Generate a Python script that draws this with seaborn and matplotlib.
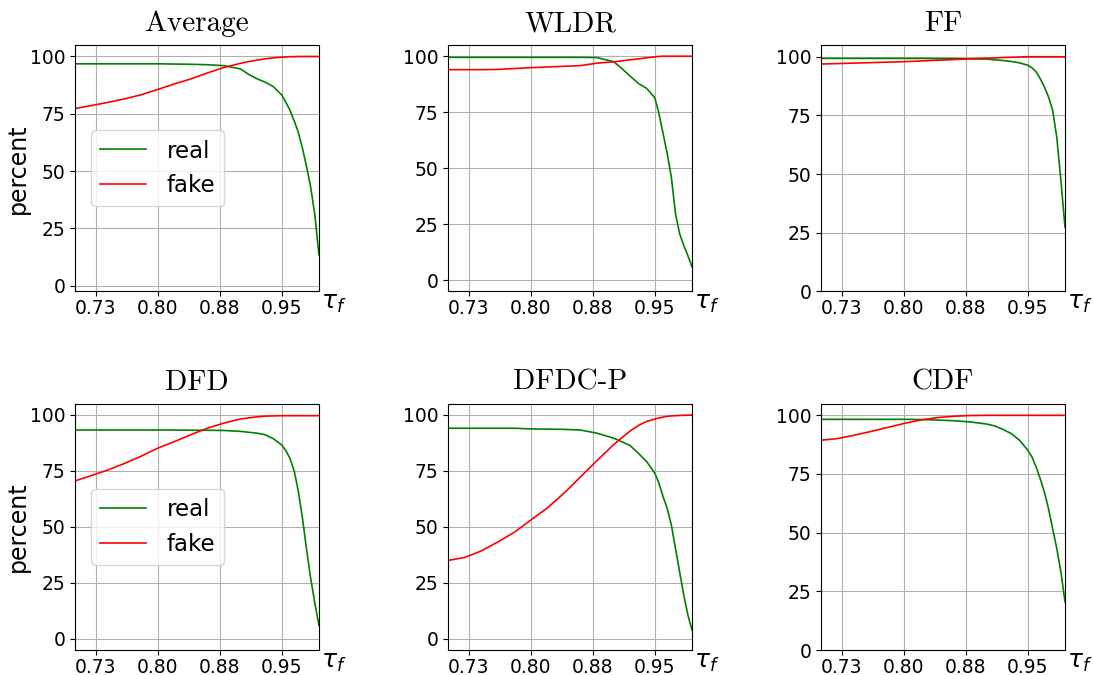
import numpy as np
import pandas as pd
import matplotlib
matplotlib.use("Agg")
import matplotlib.pyplot as plt
import seaborn as sns

# thresholds tau_f
tau = [0.70, 0.72, 0.74, 0.76, 0.78, 0.80, 0.82, 0.84, 0.86, 0.88, 0.90, 0.91, 0.92,
       0.93, 0.94, 0.95, 0.955, 0.96, 0.965, 0.97, 0.975, 0.98, 0.985, 0.99, 0.995]

avg_real = [96.8, 96.8, 96.8, 96.8, 96.8, 96.8, 96.7, 96.6, 96.4, 96.0, 94.6, 92.2, 90.3,
            88.8, 86.8, 83.2, 80.0, 76.5, 72.0, 67.0, 60.0, 52.0, 43.0, 31.0, 13.5]
avg_fake = [77.3, 78.6, 80.0, 81.5, 83.3, 85.6, 88.0, 90.2, 92.8, 95.2, 97.0, 97.8, 98.4,
            99.0, 99.4, 99.7, 99.8, 99.9, 99.9, 100, 100, 100, 100, 100, 100]

wldr_real = [99.5, 99.5, 99.5, 99.5, 99.5, 99.5, 99.5, 99.5, 99.5, 99.4, 97.6, 94.6, 91.2,
             87.9, 85.7, 81.5, 74.5, 65.6, 56.6, 46.2, 29.8, 20.9, 15.6, 11.0, 6.0]
wldr_fake = [94.0, 94.0, 94.0, 94.1, 94.5, 94.9, 95.2, 95.5, 95.8, 96.9, 97.5, 97.9, 98.4,
             98.8, 99.3, 99.7, 99.9, 100, 100, 100, 100, 100, 100, 100, 100]

ff_real = [99.3, 99.3, 99.3, 99.3, 99.3, 99.3, 99.3, 99.2, 99.2, 99.1, 99.0, 98.7, 98.4,
           98.0, 97.4, 96.4, 95.3, 93.6, 90.7, 87.2, 82.9, 77.2, 65.8, 47.3, 27.4]
ff_fake = [96.9, 97.1, 97.3, 97.5, 97.7, 97.9, 98.2, 98.5, 98.8, 99.1, 99.4, 99.5, 99.7,
           99.8, 99.9, 100, 100, 100, 100, 100, 100, 100, 100, 100, 100]

dfd_real = [93.2, 93.2, 93.2, 93.2, 93.2, 93.2, 93.2, 93.1, 93.1, 93.0, 92.6, 92.2, 91.8,
            91.1, 89.3, 86.5, 84.0, 80.5, 75.0, 66.0, 54.0, 40.0, 27.0, 16.0, 6.0]
dfd_fake = [70.5, 72.9, 75.4, 78.3, 81.5, 85.1, 88.0, 91.1, 94.0, 96.3, 98.1, 98.6, 99.1,
            99.4, 99.5, 99.6, 99.6, 99.6, 99.6, 99.6, 99.6, 99.6, 99.6, 99.6, 99.6]

dfdcp_real = [94.0, 94.0, 94.0, 94.0, 94.0, 93.7, 93.6, 93.5, 93.2, 91.8, 89.6, 88.0, 86.3,
              82.9, 79.2, 74.0, 69.5, 63.5, 58.3, 50.9, 40.5, 30.0, 19.6, 10.7, 4.0]
dfdcp_fake = [35.0, 36.3, 39.2, 43.2, 47.5, 53.0, 58.4, 64.9, 72.2, 79.5, 86.6, 89.7, 92.7,
              95.2, 97.0, 98.1, 98.6, 99.0, 99.3, 99.5, 99.6, 99.7, 99.8, 99.8, 99.9]

cdf_real = [98.3, 98.3, 98.3, 98.3, 98.3, 98.3, 98.2, 98.0, 97.7, 97.2, 96.3, 95.5, 94.0,
            92.2, 89.4, 85.1, 82.3, 78.0, 73.0, 67.4, 60.3, 51.8, 43.3, 33.3, 20.6]
cdf_fake = [89.4, 90.1, 91.5, 93.1, 94.8, 96.5, 98.0, 99.0, 99.6, 99.9, 100, 100, 100,
            100, 100, 100, 100, 100, 100, 100, 100, 100, 100, 100, 100]

titles = ["Average", "WLDR", "FF", "DFD", "DFDC-P", "CDF"]
reals = [avg_real, wldr_real, ff_real, dfd_real, dfdcp_real, cdf_real]
fakes = [avg_fake, wldr_fake, ff_fake, dfd_fake, dfdcp_fake, cdf_fake]
y_bottom = [-2.5, -5, 0, -5, -5, 0]

xticks = [0.725, 0.80, 0.875, 0.95]
xtick_labels = ["0.73", "0.80", "0.88", "0.95"]
yticks = [0, 25, 50, 75, 100]

fig, axes = plt.subplots(2, 3, figsize=(10.93, 6.75), dpi=100)
fig.subplots_adjust(left=0.0686, right=0.9744, top=0.9333, bottom=0.037,
                    wspace=0.529, hspace=0.455)

for i, ax in enumerate(axes.flat):
    df = pd.DataFrame({
        "tau": tau * 2,
        "percent": reals[i] + fakes[i],
        "kind": ["real"] * len(tau) + ["fake"] * len(tau),
    })
    show_leg = i in (0, 3)
    sns.lineplot(data=df, x="tau", y="percent", hue="kind",
                 palette={"real": "green", "fake": "red"}, linewidth=1.2,
                 legend=show_leg, ax=ax)
    ax.set_xlim(0.70, 0.995)
    ax.set_ylim(y_bottom[i], 105)
    ax.set_xticks(xticks)
    ax.set_xticklabels(xtick_labels)
    ax.set_yticks(yticks)
    ax.tick_params(labelsize=13.5)
    ax.tick_params(axis="x", pad=2.0)
    ax.grid(True)
    ax.set_title(titles[i], family="cmr10", fontsize=21, pad=10)
    ax.set_xlabel(r"$\tau_f$", fontsize=18)
    ax.xaxis.set_label_coords(1.06, 0.0)
    if i % 3 == 0:
        ax.set_ylabel("percent", fontsize=17, labelpad=0)
    else:
        ax.set_ylabel("")
    if show_leg:
        ax.legend(loc="center left", fontsize=16.5, title=None,
                  borderaxespad=0.7, handletextpad=0.9)

plt.savefig("out.png", dpi=100)
